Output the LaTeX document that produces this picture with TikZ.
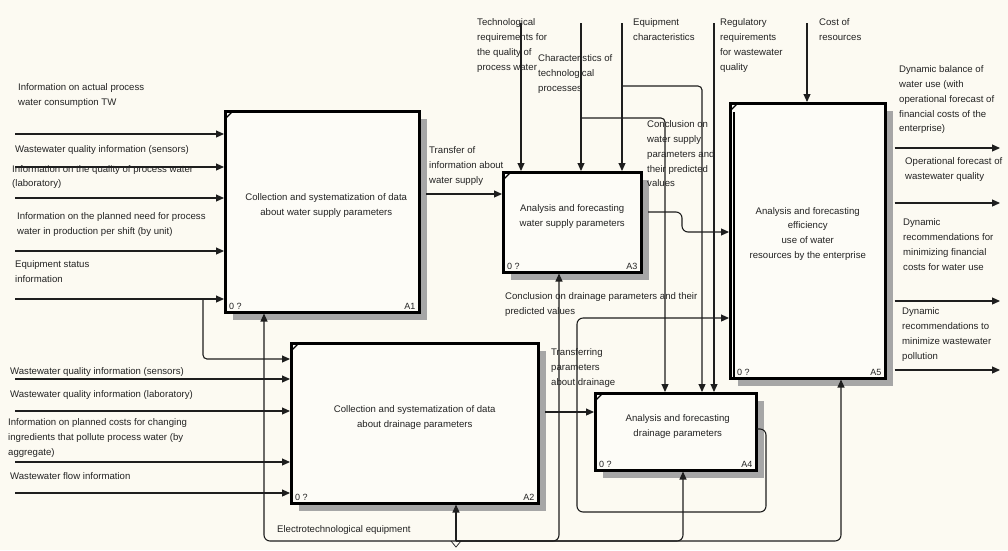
\documentclass[tikz,border=0pt]{standalone}
\usepackage{fontspec}
\setmainfont{Liberation Sans}
\usetikzlibrary{arrows.meta,shadows}

\definecolor{paper}{RGB}{252,250,242}
\definecolor{boxfill}{RGB}{253,252,247}
\definecolor{ink}{RGB}{30,30,30}
\definecolor{txt}{RGB}{35,35,35}

\tikzset{
  flow/.style={draw=ink, line width=1.1pt, -{Triangle[length=8pt,width=7pt]}},
  wire/.style={draw=ink, line width=1.1pt},
  actbox/.style={draw=black, line width=2.5pt, fill=boxfill, anchor=north west, inner sep=0pt,
    drop shadow={shadow xshift=8pt, shadow yshift=-8pt, fill=black!35, opacity=1}},
  boxtxt/.style={font=\fontsize{9.6}{14.8}\selectfont, align=center, text=txt},
  lbl/.style={font=\fontsize{9.6}{14.8}\selectfont, align=left, anchor=north west, inner sep=0pt, text=txt},
  cnr/.style={font=\fontsize{9}{10}\selectfont, inner sep=0pt, text=txt},
}

\begin{document}
\begin{tikzpicture}[x=1pt, y=-1pt]
    \fill[paper] (0,0) rectangle (1008,550);
    \useasboundingbox (0,0) rectangle (1008,550);

    % activity boxes
    \node[actbox, minimum width=194pt, minimum height=201pt] (a1) at (224,110) {};
    \node[actbox, minimum width=138pt, minimum height=100pt] (a3) at (502,171) {};
    \node[actbox, minimum width=155pt, minimum height=275pt] (a5) at (729,102) {};
    \node[actbox, minimum width=247pt, minimum height=160pt] (a2) at (290,342) {};
    \node[actbox, minimum width=161pt, minimum height=77pt] (a4) at (594,392) {};
    \draw[line width=1.8pt] ([xshift=5pt,yshift=-10pt]a5.north west) -- ([xshift=5pt,yshift=1pt]a5.south west);

    \node[boxtxt] (a1t) at ([xshift=4pt,yshift=6pt]a1.center) {Collection and systematization of data\\about water supply parameters};
    \node[boxtxt] (a3t) at ([yshift=6pt]a3.center) {Analysis and forecasting\\water supply parameters};
    \node[boxtxt] (a5t) at ([yshift=7pt]a5.center) {Analysis and forecasting\\efficiency\\use of water\\resources by the enterprise};
    \node[boxtxt] (a2t) at ([yshift=6pt]a2.center) {Collection and systematization of data\\about drainage parameters};
    \node[boxtxt] (a4t) at ([xshift=2pt,yshift=5pt]a4.center) {Analysis and forecasting\\drainage parameters};

    % corner marks
    \draw[line width=1.2pt] ([xshift=1pt,yshift=-9pt]a1.north west) -- ([xshift=9pt,yshift=-1pt]a1.north west);
    \draw[line width=1.2pt] ([xshift=1pt,yshift=-9pt]a2.north west) -- ([xshift=9pt,yshift=-1pt]a2.north west);
    \draw[line width=1.2pt] ([xshift=1pt,yshift=-9pt]a3.north west) -- ([xshift=9pt,yshift=-1pt]a3.north west);
    \draw[line width=1.2pt] ([xshift=1pt,yshift=-9pt]a4.north west) -- ([xshift=9pt,yshift=-1pt]a4.north west);
    \draw[line width=1.2pt] ([xshift=1pt,yshift=-9pt]a5.north west) -- ([xshift=9pt,yshift=-1pt]a5.north west);

    \node[cnr, anchor=south west] (a1z) at ([xshift=5pt,yshift=4pt]a1.south west) {0 ?};
    \node[cnr, anchor=south east] (a1n) at ([xshift=-5pt,yshift=4pt]a1.south east) {A1};
    \node[cnr, anchor=south west] (a2z) at ([xshift=5pt,yshift=4pt]a2.south west) {0 ?};
    \node[cnr, anchor=south east] (a2n) at ([xshift=-5pt,yshift=4pt]a2.south east) {A2};
    \node[cnr, anchor=south west] (a3z) at ([xshift=5pt,yshift=4pt]a3.south west) {0 ?};
    \node[cnr, anchor=south east] (a3n) at ([xshift=-5pt,yshift=4pt]a3.south east) {A3};
    \node[cnr, anchor=south west] (a4z) at ([xshift=5pt,yshift=4pt]a4.south west) {0 ?};
    \node[cnr, anchor=south east] (a4n) at ([xshift=-5pt,yshift=4pt]a4.south east) {A4};
    \node[cnr, anchor=south west] (a5z) at ([xshift=8pt,yshift=4pt]a5.south west) {0 ?};
    \node[cnr, anchor=south east] (a5n) at ([xshift=-5pt,yshift=4pt]a5.south east) {A5};

    % inputs of A1
    \coordinate (i1) at (15,134);
    \coordinate (i2) at (15,167);
    \coordinate (i3) at (15,198);
    \coordinate (i4) at (15,251);
    \coordinate (i5) at (15,299);
    \draw[flow] (i1) -- (i1 -| a1.west);
    \draw[flow] (i2) -- (i2 -| a1.west);
    \draw[flow] (i3) -- (i3 -| a1.west);
    \draw[flow] (i4) -- (i4 -| a1.west);
    \draw[flow] (i5) -- (i5 -| a1.west);
    \node[lbl] (ti1) at (18,83.5) {Information on actual process\\water consumption TW};
    \node[lbl] (ti2) at (15,145.5) {Wastewater quality information (sensors)};
    \node[lbl] (ti3) at (12,165) {Information on the quality of process water\\(laboratory)};
    \node[lbl] (ti4) at (17,212.5) {Information on the planned need for process\\water in production per shift (by unit)};
    \node[lbl] (ti5) at (15,260.5) {Equipment status\\information};

    % inputs of A2
    \coordinate (eq) at (203,299);
    \coordinate (j0) at (203,359);
    \coordinate (j1) at (15,379);
    \coordinate (j2) at (15,411);
    \coordinate (j3) at (15,462);
    \coordinate (j4) at (15,493);
    \draw[flow, rounded corners=4pt] (eq) -- (j0) -- (j0 -| a2.west);
    \draw[flow] (j1) -- (j1 -| a2.west);
    \draw[flow] (j2) -- (j2 -| a2.west);
    \draw[flow] (j3) -- (j3 -| a2.west);
    \draw[flow] (j4) -- (j4 -| a2.west);
    \node[lbl] (tj1) at (10,367.5) {Wastewater quality information (sensors)};
    \node[lbl] (tj2) at (10,390.5) {Wastewater quality information (laboratory)};
    \node[lbl] (tj3) at (8,418.5) {Information on planned costs for changing\\ingredients that pollute process water (by\\aggregate)};
    \node[lbl] (tj4) at (10,472.5) {Wastewater flow information};

    % controls from the top
    \coordinate (u1) at (521,23);
    \coordinate (u2) at (581,23);
    \coordinate (u3) at (622,23);
    \coordinate (u4) at (714,23);
    \coordinate (u5) at (807,23);
    \coordinate (b2) at (581,118);
    \coordinate (b3) at (622,86);
    \draw[flow] (u1) -- (u1 |- a3.north);
    \draw[flow] (u2) -- (u2 |- a3.north);
    \draw[flow] (u3) -- (u3 |- a3.north);
    \draw[flow, rounded corners=4pt] (b2) -| ([xshift=71pt]a4.north west);
    \draw[flow, rounded corners=4pt] (b3) -| ([xshift=108pt]a4.north west);
    \draw[flow] (u4) -- (u4 |- a4.north);
    \draw[flow] (u5) -- (u5 |- a5.north);
    \node[lbl] (tu1) at (477,18.5) {Technological\\requirements for\\the quality of\\process water};
    \node[lbl] (tu2) at (538,54.5) {Characteristics of\\technological\\processes};
    \node[lbl] (tu3) at (633,18.5) {Equipment\\characteristics};
    \node[lbl] (tu4) at (720,18.5) {Regulatory\\requirements\\for wastewater\\quality};
    \node[lbl] (tu5) at (819,18.5) {Cost of\\resources};

    % flows between activities
    \coordinate (p13) at (426,194);
    \coordinate (p35) at (648,212);
    \coordinate (q35) at (700,232);
    \coordinate (p24) at (545,412);
    \coordinate (p45) at (757,429);
    \coordinate (k1) at (766,512);
    \coordinate (k2) at (577,318);
    \draw[flow] (p13) -- (p13 -| a3.west);
    \draw[flow, rounded corners=6pt] (p35) -- ++(34,0) |- (q35 -| a5.west);
    \draw[flow] (p24) -- (p24 -| a4.west);
    \draw[flow, rounded corners=6pt] (p45) -| (k1) -| (k2) -- (k2 -| a5.west);
    \node[lbl] (tp13) at (429,146.5) {Transfer of\\information about\\water supply};
    \node[lbl] (tp35) at (647,120.5) {Conclusion on\\water supply\\parameters and\\their predicted\\values};
    \node[lbl] (tp24) at (551,348.5) {Transferring\\parameters\\about drainage};
    \node[lbl] (tp45) at (505,292.5) {Conclusion on drainage parameters and their\\predicted values};

    % mechanism
    \coordinate (ms) at (456,541);
    \draw[flow] (ms) -- (ms |- a2.south);
    \draw[flow, rounded corners=6pt] (ms) -| ([xshift=40pt]a1.south west);
    \draw[flow, rounded corners=6pt] (ms) -| ([xshift=57pt]a3.south west);
    \draw[flow, rounded corners=6pt] (ms) -| ([xshift=89pt]a4.south west);
    \draw[flow, rounded corners=6pt] (ms) -| ([xshift=112pt]a5.south west);
    \draw[wire, line width=0.7pt] ([xshift=-5pt]ms) -- ([yshift=-6pt]ms) -- ([xshift=5pt]ms);
    \node[lbl] (tms) at (277,525.5) {Electrotechnological equipment};

    % outputs of A5
    \coordinate (o1) at (1000,148);
    \coordinate (o2) at (1000,203);
    \coordinate (o3) at (1000,301);
    \coordinate (o4) at (1000,370);
    \draw[flow] ([xshift=8pt]o1 -| a5.east) -- (o1);
    \draw[flow] ([xshift=8pt]o2 -| a5.east) -- (o2);
    \draw[flow] ([xshift=8pt]o3 -| a5.east) -- (o3);
    \draw[flow] ([xshift=8pt]o4 -| a5.east) -- (o4);
    \node[lbl] (to1) at (899,65.5) {Dynamic balance of\\water use (with\\operational forecast of\\financial costs of the\\enterprise)};
    \node[lbl] (to2) at (905,157.5) {Operational forecast of\\wastewater quality};
    \node[lbl] (to3) at (903,218.5) {Dynamic\\recommendations for\\minimizing financial\\costs for water use};
    \node[lbl] (to4) at (902,307.5) {Dynamic\\recommendations to\\minimize wastewater\\pollution};
\end{tikzpicture}
\end{document}
